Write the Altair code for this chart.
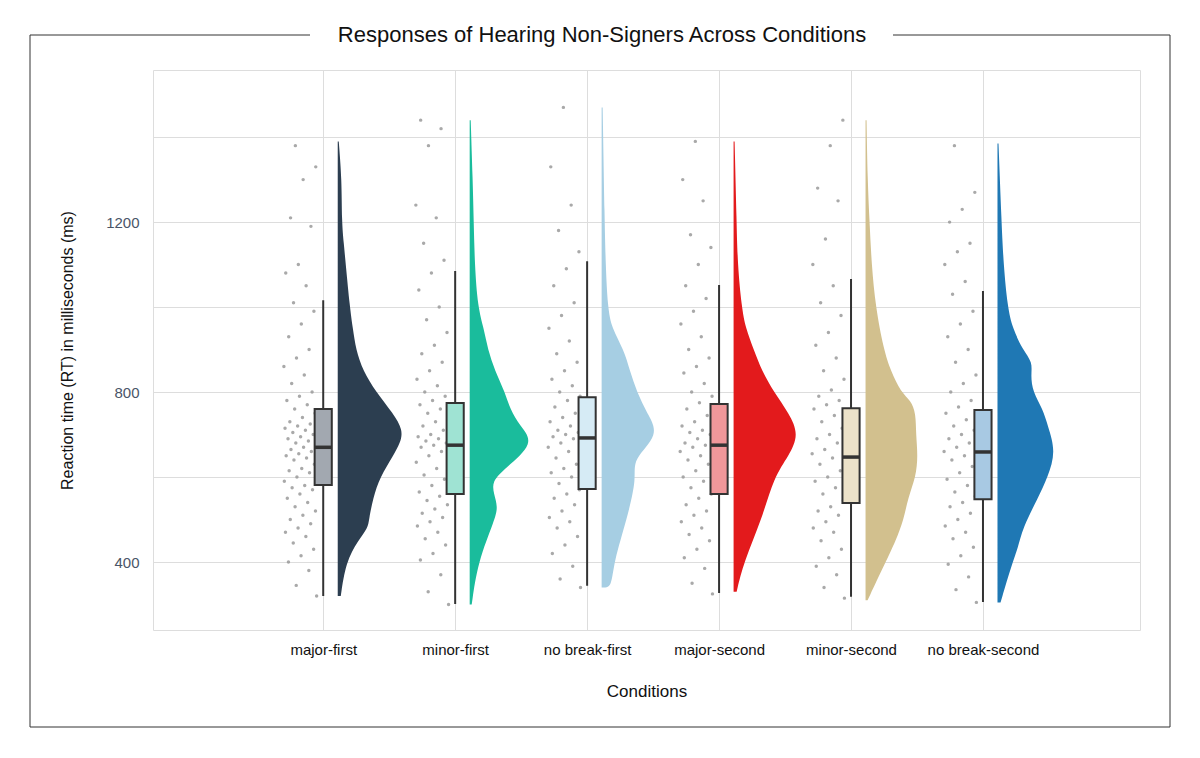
import altair as alt
import pandas as pd

names = ["major-first", "minor-first", "no break-first", "major-second", "minor-second", "no break-second"]
colors = ["#2c3e50", "#1abc9c", "#a6cee3", "#e31a1c", "#d2c08e", "#1f78b4"]
box_fill = ["#a2a8b0", "#9fe3d3", "#d6ebf5", "#f0979a", "#ece2c9", "#a8c9e3"]

# box stats: low whisker, q1, median, q3, high whisker
low = [320, 301, 344, 327, 318, 306]
q1 = [581, 560, 572, 560, 539, 548]
med = [670, 675, 692, 675, 647, 659]
q3 = [760, 774, 788, 772, 762, 758]
high = [1016, 1085, 1108, 1052, 1066, 1038]

# density half-violin widths (px-ish) at RT levels
dens_rt = [
    [320, 400, 450, 480, 500, 550, 600, 650, 680, 710, 750, 800, 850, 900, 950, 1000, 1100, 1150, 1200, 1300, 1390],
    [300, 400, 500, 530, 560, 590, 620, 680, 720, 760, 800, 850, 900, 950, 1000, 1100, 1200, 1300, 1440],
    [340, 341, 400, 500, 600, 640, 700, 750, 800, 850, 900, 950, 1000, 1100, 1200, 1470],
    [330, 400, 500, 600, 650, 700, 750, 800, 850, 900, 950, 1000, 1100, 1200, 1390],
    [310, 400, 450, 500, 550, 600, 650, 700, 750, 780, 800, 850, 900, 1000, 1100, 1200, 1300, 1440],
    [305, 400, 430, 480, 550, 600, 660, 720, 760, 800, 840, 870, 900, 950, 1000, 1100, 1200, 1385],
]
dens_w = [
    [3, 8, 20, 30, 31, 35, 42, 55, 62, 65, 55, 38, 25, 18, 15, 12, 8, 6, 4, 4, 1],
    [2, 8, 25, 28, 24, 22, 35, 65, 50, 40, 35, 25, 18, 14, 8, 5, 4, 3, 1],
    [2, 10, 12, 25, 35, 30, 58, 45, 35, 28, 22, 10, 6, 4, 3, 1],
    [3, 10, 28, 40, 55, 65, 55, 40, 28, 20, 12, 8, 4, 3, 1],
    [2, 20, 30, 38, 42, 50, 52, 50, 50, 45, 35, 25, 18, 10, 6, 4, 2, 1],
    [3, 15, 20, 25, 40, 50, 58, 50, 45, 35, 33, 35, 25, 15, 10, 6, 4, 1],
]

pts = [
    [320, 345, 380, 400, 415, 430, 445, 460, 470, 480, 490, 500, 510, 520, 530, 540, 550, 560, 570, 575, 580, 590, 600, 610, 615, 620, 630, 640, 645, 650, 655, 660, 665, 670, 675, 680, 685, 690, 695, 700, 705, 710, 715, 720, 725, 730, 740, 750, 760, 770, 780, 790, 800, 820, 840, 860, 880, 900, 930, 960, 990, 1010, 1050, 1080, 1100, 1190, 1210, 1300, 1330, 1380],
    [300, 330, 370, 405, 420, 440, 455, 470, 485, 495, 505, 515, 525, 535, 545, 555, 565, 580, 595, 605, 620, 635, 650, 660, 670, 675, 680, 685, 690, 695, 700, 710, 720, 730, 740, 750, 760, 770, 780, 790, 800, 815, 830, 850, 870, 890, 910, 940, 970, 1000, 1040, 1080, 1110, 1150, 1210, 1240, 1380, 1420, 1440],
    [340, 360, 390, 420, 440, 460, 480, 495, 505, 520, 535, 550, 560, 570, 585, 600, 610, 620, 630, 645, 660, 670, 680, 690, 695, 700, 705, 710, 720, 730, 740, 750, 765, 780, 790, 800, 815, 830, 850, 870, 890, 920, 950, 980, 1010, 1050, 1090, 1130, 1180, 1240, 1330, 1470],
    [325, 350, 385, 410, 430, 450, 465, 480, 495, 510, 520, 535, 550, 560, 575, 590, 600, 615, 630, 640, 650, 660, 670, 675, 680, 690, 700, 705, 710, 720, 730, 745, 760, 775, 790, 800, 820, 845, 860, 880, 900, 930, 960, 990, 1020, 1050, 1100, 1140, 1170, 1250, 1300, 1390],
    [315, 340, 370, 390, 410, 430, 450, 470, 480, 495, 510, 520, 530, 545, 560, 575, 590, 600, 615, 630, 645, 655, 665, 680, 690, 700, 715, 730, 745, 760, 770, 780, 790, 805, 830, 850, 880, 910, 940, 980, 1010, 1050, 1100, 1160, 1250, 1280, 1380, 1440],
    [305, 335, 365, 395, 415, 435, 455, 470, 485, 500, 515, 530, 540, 555, 565, 580, 595, 610, 625, 640, 650, 660, 670, 680, 690, 700, 710, 720, 735, 750, 765, 780, 800, 820, 840, 870, 900, 930, 960, 990, 1030, 1060, 1100, 1130, 1150, 1200, 1230, 1270, 1380],
]

PX = 131.0
rows_d, rows_p, rows_b = [], [], []
for i, n in enumerate(names):
    pos = i + 1
    for r, w in zip(dens_rt[i], dens_w[i]):
        rows_d.append({"cond": n, "rt": r, "x0": pos + 0.11, "x1": pos + 0.11 + w / PX})
    for j, r in enumerate(pts[i]):
        frac = (j * 0.6180339887) % 1.0
        rows_p.append({"cond": n, "rt": r, "x": pos - 0.05 - 0.25 * frac})
    rows_b.append({"cond": n, "pos": pos, "xl": pos - 0.065, "xr": pos + 0.065, "low": low[i], "q1": q1[i],
                   "med": med[i], "q3": q3[i], "high": high[i], "fill": box_fill[i]})
dd, dp, db = pd.DataFrame(rows_d), pd.DataFrame(rows_p), pd.DataFrame(rows_b)

W, H = 987, 560
xs = alt.Scale(domain=[-0.29, 7.19], nice=False, zero=False)
ys = alt.Scale(domain=[240, 1558], nice=False, zero=False)
cs = alt.Scale(domain=names, range=colors)
lab_expr = "[" + ",".join("'%s'" % n for n in names) + "][datum.value-1]"

xaxis = alt.Axis(values=[1, 2, 3, 4, 5, 6], labelExpr=lab_expr, title="Conditions", grid=True,
                 gridColor="#dddddd", domain=False, ticks=False, labelFontSize=15, labelColor="#111",
                 labelPadding=12, titleFontSize=17, titleFontWeight="normal", titlePadding=26, titleColor="#111")
yaxis = alt.Axis(values=[400, 600, 800, 1000, 1200, 1400], labelExpr="datum.value % 400 == 0 ? datum.value : ''",
                 title="Reaction time (RT) in milliseconds (ms)", grid=True, gridColor="#dddddd", domain=False,
                 ticks=False, labelFontSize=15, labelColor="#4a5568", labelPadding=14, titleFontSize=16,
                 titleFontWeight="normal", titlePadding=30, titleColor="#111")

points = alt.Chart(dp).mark_circle(size=12, color="#9a9a9a", opacity=0.85).encode(
    x=alt.X("x:Q", scale=xs, axis=xaxis), y=alt.Y("rt:Q", scale=ys, axis=yaxis))
violin = alt.Chart(dd).mark_area(orient="horizontal", interpolate="basis").encode(
    y=alt.Y("rt:Q", scale=ys), x=alt.X("x0:Q", scale=xs), x2="x1:Q",
    color=alt.Color("cond:N", scale=cs, legend=None))
whisk = alt.Chart(db).mark_rule(color="#333", strokeWidth=2).encode(
    x=alt.X("pos:Q", scale=xs), y=alt.Y("low:Q", scale=ys), y2="high:Q")
box = alt.Chart(db).mark_bar(stroke="#333", strokeWidth=2).encode(
    x=alt.X("xl:Q", scale=xs), x2="xr:Q", y=alt.Y("q1:Q", scale=ys), y2="q3:Q",
    fill=alt.Fill("fill:N", scale=None))
median = alt.Chart(db).mark_rule(color="#333", strokeWidth=3.5).encode(
    x=alt.X("xl:Q", scale=xs), x2="xr:Q", y=alt.Y("med:Q", scale=ys))

one = pd.DataFrame({"a": [0]})
def seg(x1, x2, y1, y2):
    return alt.Chart(one).mark_rule(color="#333", strokeWidth=1).encode(
        x=alt.value(x1), x2=alt.value(x2), y=alt.value(y1), y2=alt.value(y2))
frame = [seg(-123, 157, -35, -35), seg(740, 1017, -35, -35), seg(-123, -123, -35, 657),
         seg(1017, 1017, -35, 657), seg(-123, 1017, 657, 657)]
title = alt.Chart(one).mark_text(fontSize=22, font="Liberation Sans", color="#111", baseline="middle").encode(
    x=alt.value(449), y=alt.value(-35), text=alt.value("Responses of Hearing Non-Signers Across Conditions"))

chart = alt.layer(points, whisk, box, median, violin, *frame, title).properties(
    width=W, height=H, autosize=alt.AutoSizeParams(type="none"),
    padding={"left": 145, "top": 62, "right": 40, "bottom": 120}
).configure_view(stroke="#bbbbbb").configure(font="Liberation Sans")

chart.save("out.html", embed_options={"renderer": "svg", "actions": False})
